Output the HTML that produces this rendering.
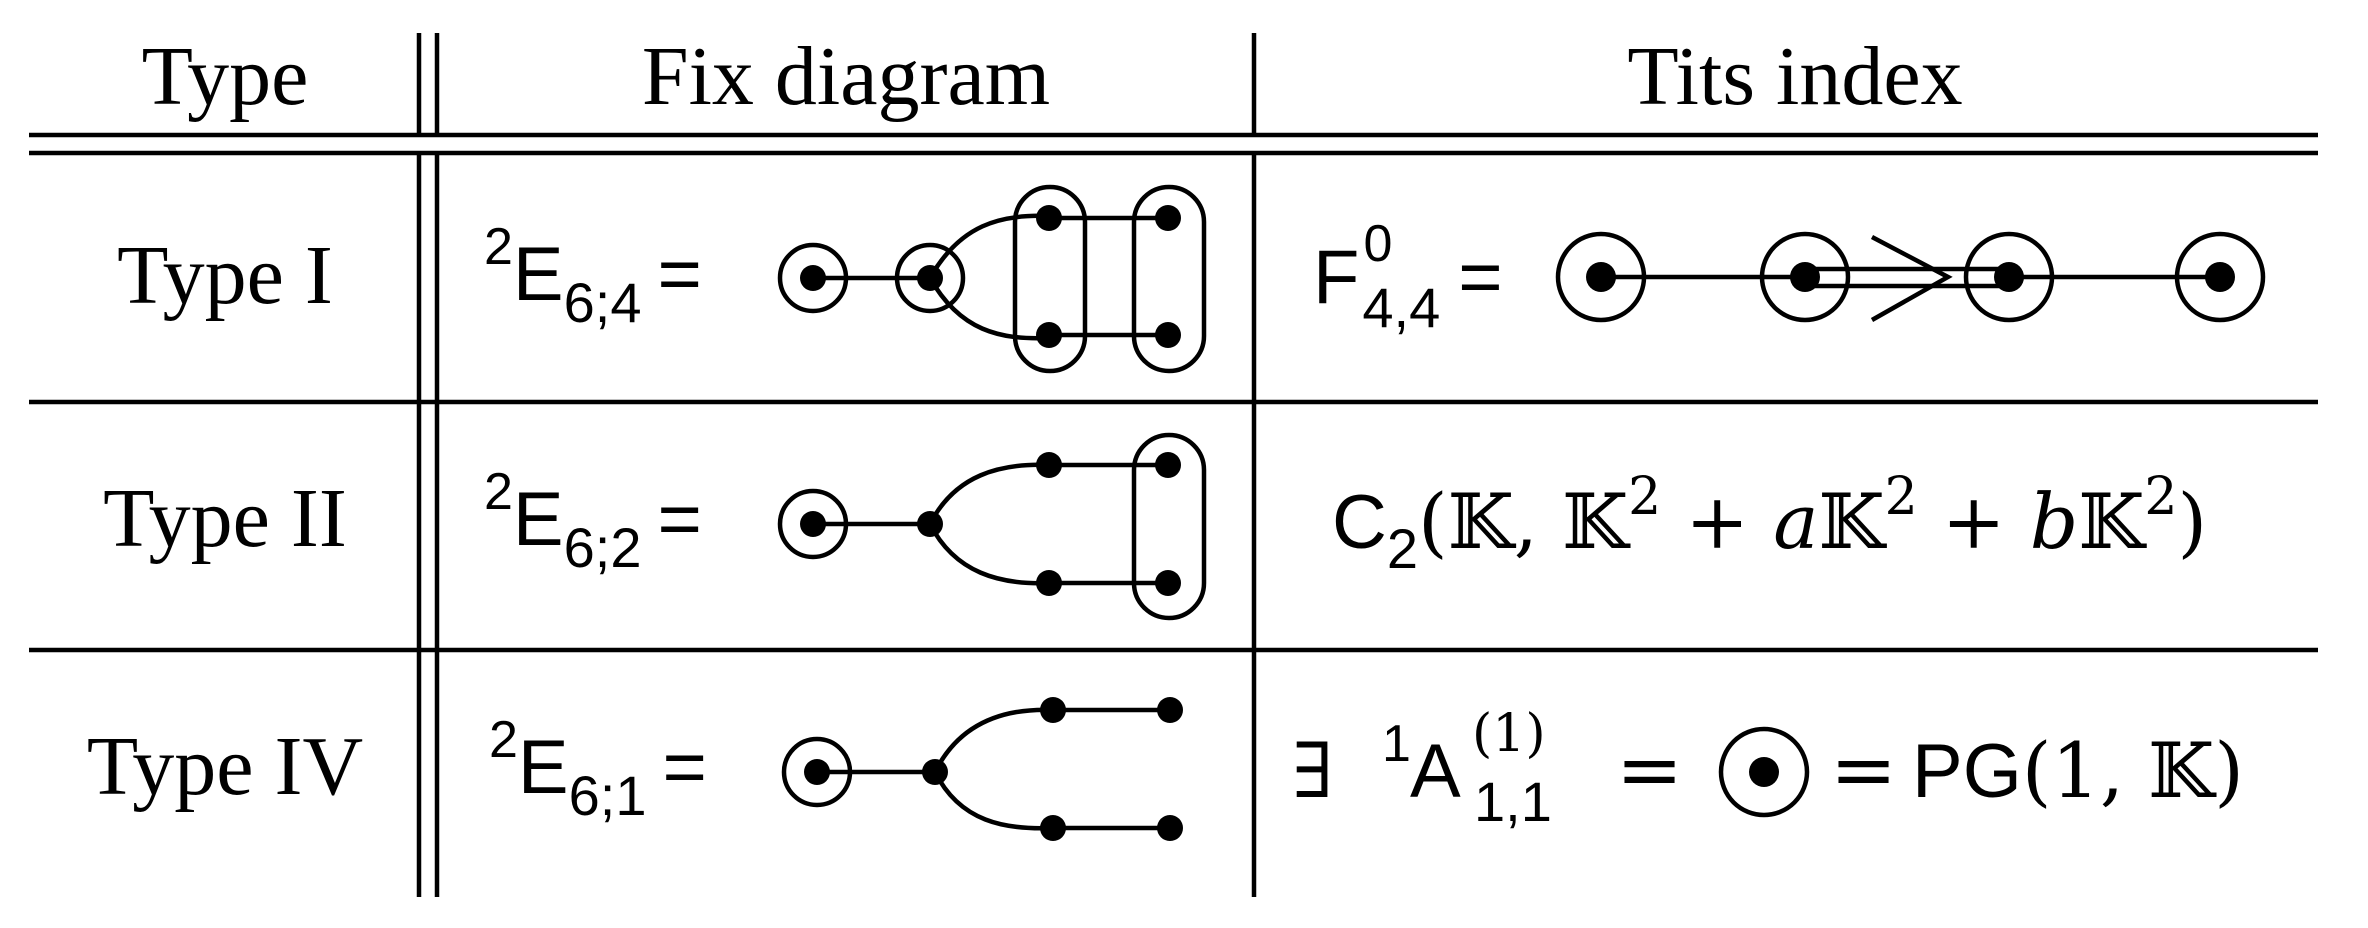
<!DOCTYPE html>
<html><head><meta charset="utf-8"><style>
html,body{margin:0;padding:0;background:#fff;}
svg{display:block;}
.serif{font-family:"Liberation Serif",serif;font-size:84px;}
.sans{font-family:"Liberation Sans","DejaVu Sans",sans-serif;font-size:76px;}
.m{font-family:"DejaVu Serif","Liberation Serif",serif;}
</style></head><body>
<svg width="2368" height="928" viewBox="0 0 2368 928" xmlns="http://www.w3.org/2000/svg">
<g stroke="#000" stroke-width="4.5" fill="none">
<line x1="29" y1="135" x2="2318" y2="135"/>
<line x1="29" y1="153" x2="2318" y2="153"/>
<line x1="29" y1="402" x2="2318" y2="402"/>
<line x1="29" y1="650" x2="2318" y2="650"/>
<line x1="419" y1="33" x2="419" y2="135"/>
<line x1="437" y1="33" x2="437" y2="135"/>
<line x1="419" y1="153" x2="419" y2="897"/>
<line x1="437" y1="153" x2="437" y2="897"/>
<line x1="1254" y1="33" x2="1254" y2="135"/>
<line x1="1254" y1="153" x2="1254" y2="897"/>
</g>
<g class="serif" text-anchor="middle" fill="#000">
<text x="225" y="104">Type</text>
<text x="846" y="104">Fix diagram</text>
<text x="1795" y="104">Tits index</text>
<text x="225" y="303">Type I</text>
<text x="225" y="546">Type II</text>
<text x="225" y="794">Type IV</text>
</g>
<g class="sans" fill="#000">
<text x="484" y="300"><tspan font-size="52" dy="-36">2</tspan><tspan dy="36">E</tspan><tspan font-size="56" dy="22">6;4</tspan><tspan dy="-22" dx="16">=</tspan></text>
<text x="484" y="545"><tspan font-size="52" dy="-36">2</tspan><tspan dy="36">E</tspan><tspan font-size="56" dy="22">6;2</tspan><tspan dy="-22" dx="16">=</tspan></text>
<text x="489" y="793"><tspan font-size="52" dy="-36">2</tspan><tspan dy="36">E</tspan><tspan font-size="56" dy="22">6;1</tspan><tspan dy="-22" dx="16">=</tspan></text>
</g>
<g stroke="#000" stroke-width="4.5" fill="none">
<line x1="813" y1="278" x2="930" y2="278"/>
<circle cx="813" cy="278" r="33"/>
<circle cx="930" cy="278" r="33"/>
<path d="M930,278 C960,225 1000,214 1049,216"/>
<path d="M930,278 C960,331 1000,340 1049,338"/>
<line x1="1049" y1="218" x2="1168" y2="218"/>
<line x1="1049" y1="335" x2="1168" y2="335"/>
<rect x="1015" y="187" width="70" height="184" rx="35"/>
<rect x="1134" y="187" width="70" height="184" rx="35"/>
<line x1="813" y1="524" x2="930" y2="524"/>
<circle cx="813" cy="524" r="33"/>
<path d="M930,524 C955,475 1000,463 1049,465"/>
<path d="M930,524 C955,573 1000,585 1049,583"/>
<line x1="1049" y1="465" x2="1168" y2="465"/>
<line x1="1049" y1="583" x2="1168" y2="583"/>
<rect x="1134" y="435" width="70" height="183" rx="35"/>
<line x1="817" y1="772" x2="935" y2="772"/>
<circle cx="817" cy="772" r="33"/>
<path d="M935,772 C960,722 1005,708 1053,710"/>
<path d="M935,772 C960,822 1005,830 1053,828"/>
<line x1="1053" y1="710" x2="1170" y2="710"/>
<line x1="1053" y1="828" x2="1170" y2="828"/>
<line x1="1601" y1="277" x2="1805" y2="277"/>
<line x1="2009" y1="277" x2="2220" y2="277"/>
<line x1="1805" y1="269" x2="2009" y2="269"/>
<line x1="1805" y1="286" x2="2009" y2="286"/>
<polyline points="1872,237 1948,277 1872,320"/>
<circle cx="1601" cy="277" r="43"/>
<circle cx="1805" cy="277" r="43"/>
<circle cx="2009" cy="277" r="43"/>
<circle cx="2220" cy="277" r="43"/>
<circle cx="1764" cy="772" r="43"/>
</g>
<g fill="#000">
<circle cx="813" cy="278" r="13"/><circle cx="930" cy="278" r="13"/>
<circle cx="1049" cy="218" r="13"/><circle cx="1049" cy="335" r="13"/>
<circle cx="1168" cy="218" r="13"/><circle cx="1168" cy="335" r="13"/>
<circle cx="813" cy="524" r="13"/><circle cx="930" cy="524" r="13"/>
<circle cx="1049" cy="465" r="13"/><circle cx="1049" cy="583" r="13"/>
<circle cx="1168" cy="465" r="13"/><circle cx="1168" cy="583" r="13"/>
<circle cx="817" cy="772" r="13"/><circle cx="935" cy="772" r="13"/>
<circle cx="1053" cy="710" r="13"/><circle cx="1053" cy="828" r="13"/>
<circle cx="1170" cy="710" r="13"/><circle cx="1170" cy="828" r="13"/>
<circle cx="1601" cy="277" r="15"/><circle cx="1805" cy="277" r="15"/>
<circle cx="2009" cy="277" r="15"/><circle cx="2220" cy="277" r="15"/>
<circle cx="1764" cy="772" r="15"/>
</g>
<g class="sans" fill="#000">
<text x="1313" y="303">F<tspan font-size="52" dx="4" dy="-42">0</tspan><tspan font-size="56" dx="-30" dy="66">4,4</tspan><tspan dy="-24" dx="18">=</tspan></text>
<text x="1332" y="548">C<tspan font-size="56" dy="20">2</tspan><tspan dy="-20" class="m">(𝕂, 𝕂<tspan font-size="52" dy="-34">2</tspan><tspan dy="34"> + </tspan><tspan font-style="italic">a</tspan>𝕂<tspan font-size="52" dy="-34">2</tspan><tspan dy="34"> + </tspan><tspan font-style="italic">b</tspan>𝕂<tspan font-size="52" dy="-34">2</tspan><tspan dy="34">)</tspan></tspan></text>
<text x="1292" y="797" class="m">∃</text>
<text x="1382" y="761" font-size="52">1</text>
<text x="1410" y="797">A</text>
<text x="1472" y="751" font-size="52" class="m">(1)</text>
<text x="1474" y="821" font-size="56">1,1</text>
<text x="1616" y="797" class="m" font-size="80">=</text>
<text x="1830" y="797" class="m" font-size="80">=</text>
<text x="1912" y="797">PG<tspan class="m">(1, 𝕂)</tspan></text>
</g>
</svg>
</body></html>
